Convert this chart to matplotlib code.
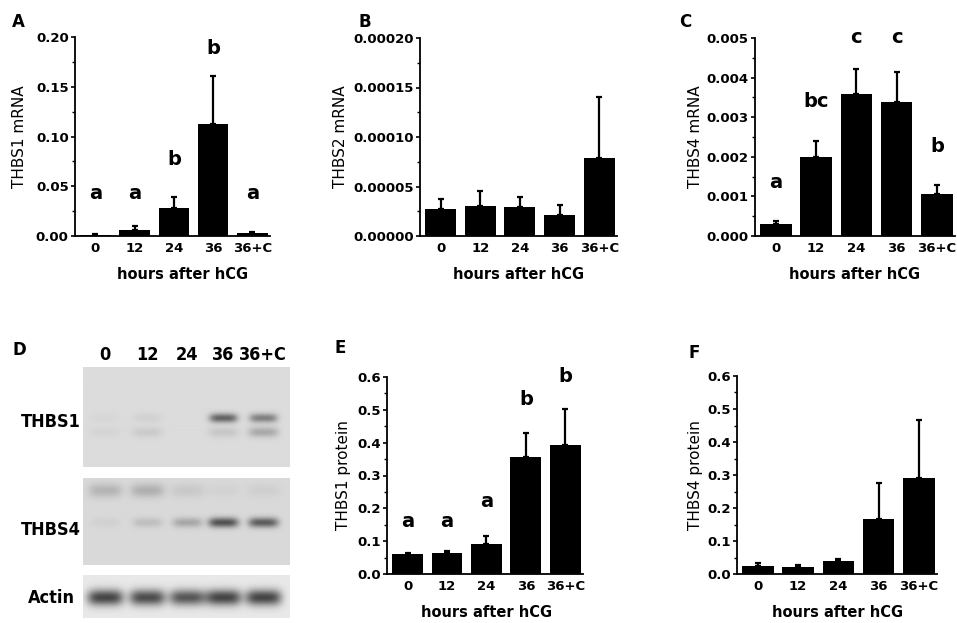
import matplotlib.pyplot as plt
import numpy as np
from matplotlib.ticker import MultipleLocator, FormatStrFormatter

W, H = 957, 623

hours = ["0", "12", "24", "36", "36+C"]

# panel A - THBS1 mRNA
thbs1_mrna = [0.001, 0.006, 0.028, 0.113, 0.0027]
thbs1_mrna_err = [0.001, 0.0044, 0.011, 0.048, 0.0017]
thbs1_mrna_letters = ["a", "a", "b", "b", "a"]
thbs1_mrna_letter_y = [0.037, 0.037, 0.071, 0.183, 0.037]

# panel B - THBS2 mRNA
thbs2_mrna = [2.73e-5, 3.07e-5, 2.97e-5, 2.12e-5, 7.86e-5]
thbs2_mrna_err = [1.01e-5, 1.52e-5, 1.01e-5, 1.05e-5, 6.14e-5]

# panel C - THBS4 mRNA
thbs4_mrna = [0.000295, 0.00199, 0.00359, 0.00338, 0.00105]
thbs4_mrna_err = [0.000095, 0.00042, 0.00063, 0.00076, 0.00024]
thbs4_mrna_letters = ["a", "bc", "c", "c", "b"]
thbs4_mrna_letter_y = [0.00122, 0.00325, 0.00487, 0.00487, 0.00213]

# panel E - THBS1 protein
thbs1_prot = [0.060, 0.064, 0.090, 0.357, 0.392]
thbs1_prot_err = [0.005, 0.005, 0.025, 0.071, 0.110]
thbs1_prot_letters = ["a", "a", "a", "b", "b"]
thbs1_prot_letter_y = [0.144, 0.144, 0.205, 0.516, 0.585]

# panel F - THBS4 protein
thbs4_prot = [0.025, 0.021, 0.038, 0.166, 0.292]
thbs4_prot_err = [0.009, 0.005, 0.008, 0.109, 0.175]

# panel D - western blot band darkness per lane (0 = none, 1 = black)
lane_x = [22, 64, 104, 140, 180]
thbs1_band = [0.03, 0.06, 0.0, 0.72, 0.55]
thbs1_lower_band = [0.04, 0.10, 0.0, 0.12, 0.30]
thbs4_band = [0.05, 0.16, 0.30, 0.82, 0.75]
thbs4_upper_band = [0.22, 0.25, 0.10, 0.04, 0.06]
actin_band = [0.90, 0.86, 0.80, 0.90, 0.90]
blot_rows = ["THBS1", "THBS4", "Actin"]

fig = plt.figure(figsize=(W / 100, H / 100), dpi=100)


def px_axes(x0, y0, x1, y1):
    return fig.add_axes([x0 / W, 1 - y1 / H, (x1 - x0) / W, (y1 - y0) / H])


def bar_panel(box, values, errs, ylabel, top, major, fmt, ylab_x, xlab_x,
              letters=None, letter_y=None):
    ax = px_axes(*box)
    x = np.arange(len(values))
    ax.bar(x, values, width=0.78, color="black", zorder=2)
    ax.errorbar(x, values, yerr=[np.zeros(len(errs)), errs], fmt="none",
                ecolor="black", elinewidth=1.6, capsize=2.5, capthick=1.6,
                zorder=3)
    if letters:
        for i, (s, yy) in enumerate(zip(letters, letter_y)):
            ax.text(i, yy, s, ha="center", va="baseline", fontsize=14,
                    fontweight="bold")
    ax.set_xlim(-0.52, 4.45)
    ax.set_ylim(0, top)
    ax.set_xticks(x)
    ax.set_xticklabels(hours)
    ax.yaxis.set_major_locator(MultipleLocator(major))
    ax.yaxis.set_minor_locator(MultipleLocator(major / 2))
    ax.yaxis.set_major_formatter(FormatStrFormatter(fmt))
    for sp in ["top", "right"]:
        ax.spines[sp].set_visible(False)
    for sp in ["left", "bottom"]:
        ax.spines[sp].set_linewidth(1.3)
    ax.tick_params(axis="x", length=0, pad=4.5, labelsize=9.5)
    ax.tick_params(axis="y", which="major", length=3, width=1.2, pad=1.5,
                   labelsize=9.5)
    ax.tick_params(axis="y", which="minor", length=2, width=1.0)
    for lab in ax.get_xticklabels() + ax.get_yticklabels():
        lab.set_fontweight("bold")
    ax.set_ylabel(ylabel, fontsize=11)
    ax.yaxis.set_label_coords(ylab_x, 0.5)
    ax.set_xlabel("hours after hCG", fontsize=10.5, fontweight="bold")
    ax.xaxis.set_label_coords(xlab_x, -0.155)
    ax.xaxis.label.set_va("top")
    return ax


bar_panel((75, 37, 270, 236), thbs1_mrna, thbs1_mrna_err, "THBS1 mRNA",
          0.20, 0.05, "%.2f", -0.245, 0.55,
          thbs1_mrna_letters, thbs1_mrna_letter_y)
bar_panel((420, 38, 617, 236), thbs2_mrna, thbs2_mrna_err, "THBS2 mRNA",
          0.0002, 0.00005, "%.5f", -0.365, 0.50)
bar_panel((755, 38, 955, 236), thbs4_mrna, thbs4_mrna_err, "THBS4 mRNA",
          0.005, 0.001, "%.3f", -0.26, 0.50,
          thbs4_mrna_letters, thbs4_mrna_letter_y)
bar_panel((387, 377, 583, 574), thbs1_prot, thbs1_prot_err, "THBS1 protein",
          0.6, 0.1, "%.1f", -0.185, 0.51,
          thbs1_prot_letters, thbs1_prot_letter_y)
bar_panel((737, 376, 937, 574), thbs4_prot, thbs4_prot_err, "THBS4 protein",
          0.6, 0.1, "%.1f", -0.17, 0.505)


# Western blot strips
def blot_strip(box, bg, bands):
    x0, y0, x1, y1 = box
    w, h = x1 - x0, y1 - y0
    xx, yy = np.meshgrid(np.arange(w), np.arange(h))
    img = np.full((h, w), bg)
    for row_y, half_h, half_w, levels in bands:
        for cx, lv in zip(lane_x, levels):
            img -= lv * (bg - 0.2) * np.exp(-((xx - cx) / half_w) ** 4) \
                * np.exp(-((yy - row_y) / half_h) ** 2)
    ax = px_axes(*box)
    ax.imshow(np.clip(img, 0, 1), cmap="gray", vmin=0, vmax=1,
              aspect="auto", interpolation="bilinear")
    ax.axis("off")
    return ax


blot_strip((83, 367, 290, 467), 0.86,
           [(51, 4.5, 14, thbs1_band), (65, 5, 15, thbs1_lower_band)])
blot_strip((83, 478, 290, 565), 0.85,
           [(44, 5, 15, thbs4_band), (12, 7, 17, thbs4_upper_band)])
blot_strip((83, 575, 290, 618), 0.91,
           [(22, 8, 18, actin_band)])

lane_label_x = [105, 147, 187, 223, 263]
for lx, s in zip(lane_label_x, hours):
    fig.text(lx / W, 1 - 360 / H, s, ha="center", va="baseline",
             fontsize=13, fontweight="bold", family="DejaVu Sans",
             fontstretch="condensed")
for yb, s in zip([427, 535, 603], blot_rows):
    fig.text(51 / W, 1 - yb / H, s, ha="center", va="baseline",
             fontsize=13, fontweight="bold", family="DejaVu Sans",
             fontstretch="condensed")

# panel letters
for px, py, s in [(12, 27, "A"), (359, 27, "B"), (679, 27, "C"),
                  (12, 355, "D"), (335, 353, "E"), (688, 358, "F")]:
    fig.text(px / W, 1 - py / H, s, fontsize=12, fontweight="bold",
             va="baseline")

fig.savefig("out.png", dpi=100)
